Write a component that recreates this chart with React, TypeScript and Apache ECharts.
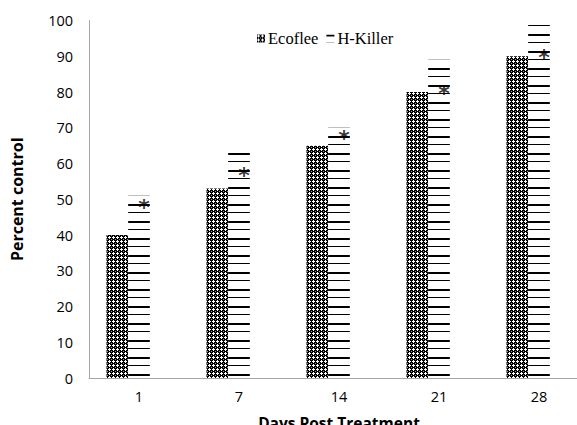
import React, { useEffect, useRef } from "react";
import * as echarts from "echarts";

const categories = ["1", "7", "14", "21", "28"];
const ecoflee = [40, 53, 65, 80, 90];
const hKiller = [51, 63, 70, 89, 99];
const asterisks = [49, 58, 68.5, 81, 91];
const yTicks = { min: 0, max: 100, interval: 10 };

function makeChecker(): HTMLCanvasElement {
  const c = document.createElement("canvas");
  c.width = 4;
  c.height = 4;
  const ctx = c.getContext("2d")!;
  ctx.fillStyle = "#000";
  ctx.fillRect(0, 0, 4, 4);
  ctx.fillStyle = "#fff";
  ctx.fillRect(1, 0, 1, 1);
  ctx.fillRect(0, 1, 3, 1);
  ctx.fillRect(1, 2, 1, 1);
  ctx.fillStyle = "#999";
  ctx.fillRect(3, 3, 1, 1);
  return c;
}

function makeLines(): HTMLCanvasElement {
  const c = document.createElement("canvas");
  c.width = 4;
  c.height = 17;
  const ctx = c.getContext("2d")!;
  ctx.fillStyle = "#fff";
  ctx.fillRect(0, 0, 4, 17);
  ctx.fillStyle = "#000";
  ctx.fillRect(0, 0, 4, 2);
  ctx.fillRect(0, 8, 4, 1);
  return c;
}

export default function App() {
  const ref = useRef<HTMLDivElement>(null);
  useEffect(() => {
    if (!ref.current) return;
    const chart = echarts.init(ref.current, null, { renderer: "svg" });
    const checker = { image: makeChecker(), repeat: "repeat" } as any;
    const lines = { image: makeLines(), repeat: "repeat" } as any;
    const axisFont = { fontFamily: "Open Sans", fontSize: 14.5, color: "#000" };
    const nameFont = { fontFamily: "Open Sans", fontSize: 16, fontWeight: "bold", color: "#000" };
    chart.setOption({
      animation: false,
      backgroundColor: "#fff",
      grid: {
        left: 89,
        width: 500,
        top: 20.5,
        height: 357.5,
        containLabel: false,
        outerBoundsMode: "none",
      },
      legend: {
        data: ["Ecoflee", "H-Killer"],
        top: 25,
        left: 252,
        itemWidth: 8,
        itemHeight: 8,
        itemGap: 8,
        icon: "rect",
        textStyle: { fontFamily: "Liberation Serif", fontSize: 16.5, color: "#000", padding: [0, 0, 0, -2] },
      },
      xAxis: {
        type: "category",
        data: categories,
        axisLine: { lineStyle: { color: "#a6a6a6", width: 1 } },
        axisTick: { show: false },
        axisLabel: { ...axisFont, margin: 11 },
        name: "Days Post Treatment",
        nameLocation: "middle",
        nameGap: 37,
        nameMoveOverlap: false,
        nameTextStyle: { ...nameFont, fontSize: 15.5, lineHeight: 16 },
      },
      yAxis: {
        type: "value",
        min: yTicks.min,
        max: yTicks.max,
        interval: yTicks.interval,
        splitLine: { show: false },
        axisLine: { show: true, lineStyle: { color: "#a6a6a6", width: 1 } },
        axisTick: { show: false },
        axisLabel: { ...axisFont, margin: 16 },
        name: "Percent control",
        nameLocation: "middle",
        nameGap: 64,
        nameTextStyle: nameFont,
      },
      series: [
        {
          name: "Ecoflee",
          type: "bar",
          data: ecoflee,
          barGap: "0%",
          barCategoryGap: "35%",
          itemStyle: { color: checker },
        },
        {
          name: "H-Killer",
          type: "bar",
          data: hKiller,
          itemStyle: { color: lines },
        },
        {
          name: "blank",
          type: "bar",
          data: [],
          itemStyle: { color: "transparent" },
        },
        {
          name: "sig",
          type: "scatter",
          data: asterisks,
          symbolSize: 0,
          label: {
            show: true,
            formatter: "*",
            position: "inside",
            offset: [5, 5],
            fontFamily: "DejaVu Sans",
            fontWeight: "bold",
            fontSize: 22,
            color: "#000",
          },
        },
      ],
    });
    return () => chart.dispose();
  }, []);
  return (
    <div
      ref={ref}
      style={{ position: "fixed", left: 0, top: 0, width: 577, height: 425 }}
    />
  );
}
